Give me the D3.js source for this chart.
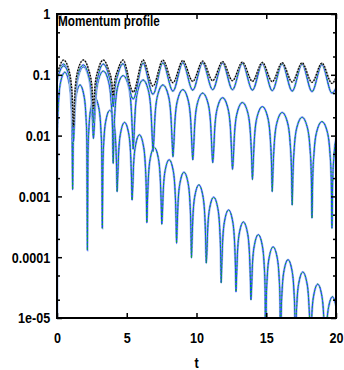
<!DOCTYPE html>
<html>
<head>
<meta charset="utf-8">
<style>
  body { margin: 0; background: #fff; }
  text { font-family: "Liberation Sans", Arial, sans-serif; font-weight: bold; fill: #000; }
</style>
</head>
<body>
<div id="chart-area"></div>

<script src="https://cdn.jsdelivr.net/npm/d3@7/dist/d3.min.js"></script>
<script>
    const width = 344;
    const height = 370;
    const margin = {top: 14, right: 8, bottom: 52, left: 57};
    const w = width - margin.left - margin.right;
    const h = height - margin.top - margin.bottom;

    // ticks and labels
    const xTicks = [0, 5, 10, 15, 20];
    const yTicks = [1, 0.1, 0.01, 0.001, 0.0001, 0.00001];
    const yTickLabels = ["1", "0.1", "0.01", "0.001", "0.0001", "1e-05"];
    const yMinorTicks = [0.5, 0.2, 0.05, 0.02, 0.005, 0.002, 0.0005, 0.0002, 0.00005, 0.00002];
    const titleText = "Momentum profile";
    const xLabel = "t";

    // [t, value]
    const profileA = [
        [0,0.1],[0.47,0.175],[0.85,0.12],[1.08,0.05],[1.18,0.014],[1.28,0.05],[1.5,0.12],[1.89,0.175],
        [2.25,0.125],[2.5,0.065],[2.61,0.028],[2.72,0.065],[2.97,0.125],[3.32,0.175],
        [3.7,0.12],[3.93,0.075],[4.03,0.045],[4.13,0.075],[4.36,0.12],[4.74,0.175],
        [5.46,0.052],[6.17,0.175],[6.88,0.065],[7.59,0.175],[8.31,0.074],[9.02,0.172],[9.73,0.078],
        [10.44,0.168],[11.16,0.08],[11.87,0.165],[12.58,0.08],[13.29,0.162],[14.01,0.078],[14.72,0.16],
        [15.43,0.077],[16.14,0.158],[16.86,0.076],[17.57,0.157],[18.28,0.075],[18.99,0.156],[19.71,0.072],[20,0.09]
    ];
    const profileB = [
        [0,0.085],[0.47,0.14],[0.85,0.1],[1.08,0.035],[1.18,0.008],[1.28,0.035],[1.5,0.1],[1.89,0.145],
        [2.25,0.1],[2.5,0.045],[2.61,0.016],[2.72,0.045],[2.97,0.1],[3.32,0.15],
        [3.7,0.1],[3.93,0.055],[4.03,0.03],[4.13,0.055],[4.36,0.1],[4.74,0.152],
        [5.46,0.04],[6.17,0.155],[6.88,0.048],[7.59,0.157],[8.31,0.054],[9.02,0.158],[9.73,0.056],
        [10.44,0.158],[11.16,0.057],[11.87,0.157],[12.58,0.057],[13.29,0.155],[14.01,0.056],[14.72,0.153],
        [15.43,0.055],[16.14,0.152],[16.86,0.054],[17.57,0.15],[18.28,0.053],[18.99,0.148],[19.71,0.05],[20,0.06]
    ];
    const profileC = [
        [0,0.075],[0.12,0.105],[0.47,0.15],[0.83,0.105],[1.03,0.048],[1.13,0.0165],[1.18,0.011],
        [1.23,0.0149],[1.33,0.043],[1.53,0.0945],[1.89,0.135],[2.26,0.0945],[2.46,0.043],[2.56,0.0149],[2.61,0.009],
        [2.66,0.0127],[2.76,0.0368],[2.96,0.0805],[3.32,0.115],[3.68,0.0805],[3.88,0.0368],[3.98,0.0127],[4.03,0.0035],
        [4.08,0.0107],[4.18,0.031],[4.38,0.068],[4.74,0.097],[5.11,0.068],[5.31,0.031],[5.41,0.0107],[5.46,0.006],
        [5.51,0.009],[5.61,0.0262],[5.81,0.0574],[6.17,0.082],[6.53,0.0574],[6.73,0.0262],[6.83,0.009],[6.88,0.0055],
        [6.93,0.0075],[7.03,0.0218],[7.23,0.0476],[7.59,0.068],[7.96,0.0476],[8.16,0.0218],[8.26,0.0075],[8.31,0.0045],
        [8.36,0.0063],[8.46,0.0182],[8.66,0.0399],[9.02,0.057],[9.38,0.0399],[9.58,0.0182],[9.68,0.0063],[9.73,0.004],
        [9.78,0.0055],[9.88,0.016],[10.08,0.035],[10.44,0.05],[10.81,0.035],[11.01,0.016],[11.11,0.0055],[11.16,0.0036],
        [11.21,0.0046],[11.31,0.0134],[11.51,0.0294],[11.87,0.042],[12.23,0.0294],[12.43,0.0134],[12.53,0.0046],[12.58,0.0028],
        [12.63,0.0039],[12.73,0.0112],[12.93,0.0245],[13.29,0.035],[13.66,0.0245],[13.86,0.0112],[13.96,0.0039],[14.01,0.0019],
        [14.06,0.0033],[14.16,0.0096],[14.36,0.021],[14.72,0.03],[15.08,0.021],[15.28,0.0096],[15.38,0.0033],[15.43,0.0012],
        [15.48,0.0026],[15.58,0.0077],[15.78,0.0168],[16.14,0.024],[16.51,0.0168],[16.71,0.0077],[16.81,0.0026],[16.86,0.00072],
        [16.91,0.0022],[17.01,0.0064],[17.21,0.014],[17.57,0.02],[17.93,0.014],[18.13,0.0064],[18.23,0.0022],[18.28,0.00044],
        [18.33,0.0019],[18.43,0.0054],[18.63,0.0119],[18.99,0.017],[19.36,0.0119],[19.56,0.0054],[19.66,0.0019],[19.71,0.0003],
        [19.76,0.0017],[19.86,0.0048],[20,0.009]
    ];
    const profileD = [
        [0,1e-7],[0.04,0.013],[0.11,0.035],[0.26,0.076],[0.56,0.11],[0.86,0.076],[1.01,0.035],[1.08,0.013],[1.12,0.0013],
        [1.16,0.0082],[1.23,0.0218],[1.38,0.047],[1.65,0.068],[1.92,0.047],[2.07,0.0218],[2.14,0.0082],[2.18,0.00013],
        [2.22,0.005],[2.29,0.0134],[2.44,0.029],[2.71,0.042],[2.99,0.029],[3.14,0.0134],[3.21,0.005],[3.25,0.0003],
        [3.29,0.0031],[3.36,0.0083],[3.51,0.018],[3.78,0.026],[4.05,0.018],[4.2,0.0083],[4.27,0.0031],[4.31,0.0012],
        [4.35,0.002],[4.42,0.0053],[4.57,0.0114],[4.84,0.0165],[5.12,0.0114],[5.27,0.0053],[5.34,0.002],[5.38,0.00087],
        [5.42,0.00124],[5.49,0.0033],[5.64,0.0071],[5.91,0.0103],[6.18,0.0071],[6.33,0.0033],[6.4,0.00124],[6.44,0.00037],
        [6.48,0.00077],[6.55,0.002],[6.7,0.0044],[6.97,0.0064],[7.25,0.0044],[7.4,0.002],[7.47,0.00077],[7.51,0.00035],
        [7.55,0.00048],[7.62,0.00128],[7.77,0.0028],[8.04,0.004],[8.31,0.0028],[8.46,0.00128],[8.53,0.00048],[8.57,0.00017],
        [8.61,0.0003],[8.68,0.0008],[8.83,0.00173],[9.1,0.0025],[9.38,0.00173],[9.53,0.0008],[9.6,0.0003],[9.64,0.000097],
        [9.68,0.000186],[9.75,0.0005],[9.9,0.00107],[10.17,0.00155],[10.44,0.00107],[10.59,0.0005],[10.66,0.000186],[10.7,0.00008],
        [10.74,0.000116],[10.81,0.00031],[10.96,0.00067],[11.23,0.00097],[11.51,0.00067],[11.66,0.00031],[11.73,0.000116],[11.77,0.000038],
        [11.81,0.000072],[11.88,0.000192],[12.03,0.000414],[12.3,0.0006],[12.57,0.000414],[12.72,0.000192],[12.79,0.000072],[12.83,0.000027],
        [12.87,0.0000456],[12.94,0.000122],[13.09,0.000262],[13.36,0.00038],[13.64,0.000262],[13.79,0.000122],[13.86,0.0000456],[13.9,0.00002],
        [13.94,0.0000282],[14.01,0.0000752],[14.16,0.000162],[14.43,0.000235],[14.7,0.000162],[14.85,0.0000752],[14.92,0.0000282],[14.96,1e-7],
        [15,0.0000178],[15.07,0.0000474],[15.22,0.000102],[15.49,0.000148],[15.77,0.000102],[15.92,0.0000474],[15.99,0.0000178],[16.03,1e-7],
        [16.07,0.0000109],[16.14,0.0000291],[16.29,0.0000628],[16.56,0.000091],[16.83,0.0000628],[16.98,0.0000291],[17.05,0.0000109],[17.09,1e-7],
        [17.13,0.0000068],[17.2,0.0000182],[17.35,0.0000393],[17.62,0.000057],[17.9,0.0000393],[18.05,0.0000182],[18.12,0.0000068],[18.16,1e-7],
        [18.2,0.0000043],[18.27,0.0000115],[18.42,0.0000248],[18.69,0.000036],[18.96,0.0000248],[19.11,0.0000115],[19.18,0.0000043],[19.22,1e-7],
        [19.26,0.0000027],[19.33,0.0000072],[19.48,0.0000155],[19.75,0.0000224],[20,0.000016]
    ];

    const svg = d3.select("#chart-area")
        .append("svg")
            .attr("width", width)
            .attr("height", height);

    const g = svg.append("g")
        .attr("transform", `translate(${margin.left}, ${margin.top})`);

    const x = d3.scaleLinear().domain([0, 20]).range([0, w]);
    const y = d3.scaleLog().domain([1e-5, 1]).range([h, 0]);

    g.append("clipPath").attr("id", "clip")
        .append("rect").attr("width", w).attr("height", h);

    const line = d3.line()
        .x(d => x(d[0]))
        .y(d => y(d[1]))
        .curve(d3.curveMonotoneX);

    const plot = g.append("g").attr("clip-path", "url(#clip)");

    // light blue halo, blue line, green dots on top
    function drawBlue(data) {
        plot.append("path").attr("d", line(data))
            .attr("fill", "none").attr("stroke", "#a9c2f0").attr("stroke-width", 2.4);
        plot.append("path").attr("d", line(data))
            .attr("fill", "none").attr("stroke", "#1432ff").attr("stroke-width", 1);
        plot.append("path").attr("d", line(data))
            .attr("fill", "none").attr("stroke", "#10c010").attr("stroke-width", 1)
            .attr("stroke-dasharray", "1.5,2.5");
    }

    drawBlue(profileD);
    drawBlue(profileC);
    drawBlue(profileB);

    // black dotted curve
    plot.append("path").attr("d", line(profileA))
        .attr("fill", "none").attr("stroke", "#b0b0b0").attr("stroke-width", 1.6);
    plot.append("path").attr("d", line(profileA))
        .attr("fill", "none").attr("stroke", "#000").attr("stroke-width", 1.3)
        .attr("stroke-dasharray", "1.5,1.5");

    // axes
    function styleAxis(sel) {
        sel.select(".domain").remove();
        sel.selectAll("line").attr("stroke", "#000").attr("stroke-width", 1.5);
        sel.attr("font-size", 15).attr("font-family", null);
    }

    g.append("g")
        .attr("transform", `translate(0, ${h})`)
        .call(d3.axisBottom(x).tickValues(xTicks).tickFormat(d3.format("d"))
            .tickSizeInner(-5).tickSizeOuter(0).tickPadding(14))
        .call(styleAxis)
        .selectAll("text").attr("transform", "scale(0.84,1)");

    g.append("g")
        .call(d3.axisTop(x).tickValues(xTicks).tickFormat("")
            .tickSizeInner(-5).tickSizeOuter(0))
        .call(styleAxis);

    g.append("g")
        .call(d3.axisLeft(y).tickValues(yTicks).tickFormat((d, i) => yTickLabels[i])
            .tickSizeInner(-5).tickSizeOuter(0).tickPadding(8))
        .call(styleAxis)
        .selectAll("text").attr("transform", "scale(0.84,1)");

    g.append("g")
        .call(d3.axisLeft(y).tickValues(yMinorTicks).tickFormat("")
            .tickSizeInner(-3).tickSizeOuter(0))
        .call(styleAxis);

    g.append("g")
        .attr("transform", `translate(${w}, 0)`)
        .call(d3.axisRight(y).tickValues(yTicks).tickFormat("")
            .tickSizeInner(-5).tickSizeOuter(0))
        .call(styleAxis);

    g.append("g")
        .attr("transform", `translate(${w}, 0)`)
        .call(d3.axisRight(y).tickValues(yMinorTicks).tickFormat("")
            .tickSizeInner(-3).tickSizeOuter(0))
        .call(styleAxis);

    // frame
    g.append("rect")
        .attr("width", w).attr("height", h)
        .attr("fill", "none").attr("stroke", "#000").attr("stroke-width", 2);

    // title and axis label
    svg.append("text")
        .attr("transform", `translate(${margin.left + 1}, 26) scale(0.84,1)`)
        .attr("font-size", 14)
        .text(titleText);

    svg.append("text")
        .attr("transform", `translate(${margin.left + w / 2}, 368) scale(0.84,1)`)
        .attr("text-anchor", "middle")
        .attr("font-size", 15)
        .text(xLabel);
</script>
</body>
</html>
